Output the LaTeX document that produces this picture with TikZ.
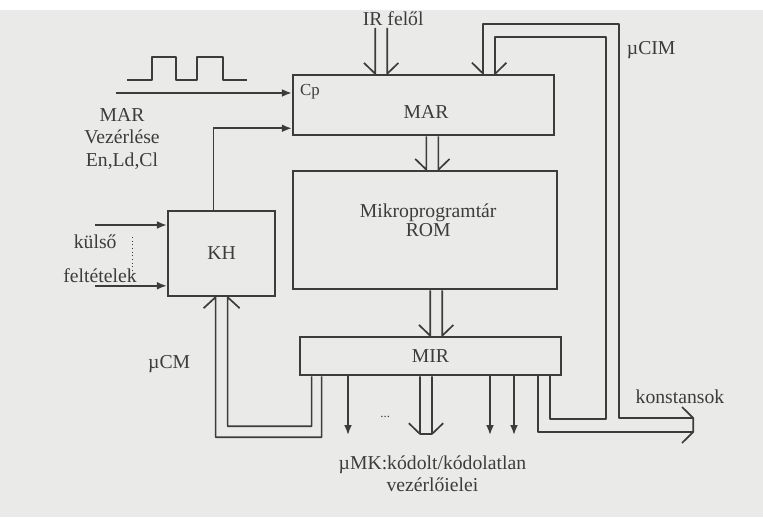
\documentclass[tikz,border=0pt]{standalone}
\usepackage{fontspec}
\setmainfont{Liberation Serif}
\usepackage{tikz}
\usetikzlibrary{arrows.meta, positioning, calc}
\definecolor{papir}{RGB}{234,234,232}
\definecolor{tinta}{RGB}{60,60,60}
\tikzstyle{doboz} = [draw=tinta, text=tinta, line width=1.8pt, inner sep=0pt]
\tikzstyle{nyil} = [draw=tinta, line width=1.2pt, -{Latex[length=7pt,width=5.5pt]}]

% kettos vonalu busz lefele, nyitott nyilheggyel
\newcommand{\buszle}[2]{%
  \draw[busz] ($(#1)+(-0.15,0)$) -- ($(#2)+(-0.15,0)$) -- ++(-0.28,0.27);
  \draw[busz] ($(#1)+(0.15,0)$) -- ($(#2)+(0.15,0)$) -- ++(0.28,0.27);}

\begin{document}
\begin{tikzpicture}[
        font=\fontsize{14}{16}\selectfont,
        % Kettos vonalas buszok vonala
        busz/.style={draw=tinta, line width=1.2pt, line join=round},
        szoveg/.style={text=tinta, align=center},
    ]
        % 0. Hatter (szkennelt lap)
        \useasboundingbox (0,0) rectangle (19.075,12.925);
        \fill[papir] (0,0) rectangle (19.075,12.675);

        % 1. A blokkok
        \node (mar) [doboz, minimum width=6.525cm, minimum height=1.5cm] at (10.59,10.3) {};
        \node (rom) [doboz, minimum width=6.6cm, minimum height=2.95cm] at (10.625,7.175) {};
        \node (mir) [doboz, minimum width=6.525cm, minimum height=0.95cm] at (10.76,4.025) {MIR};
        \node (kh) [doboz, minimum width=2.675cm, minimum height=2.125cm] at (5.54,6.59) {KH};
        \node[szoveg] (martext) at ($(mar.center)+(0.06,-0.18)$) {MAR};
        \node[szoveg, font=\fontsize{14}{13.6}\selectfont] (romtext) at ($(rom.center)+(0.08,0.24)$) {Mikroprogramtár\\ROM};

        % 2. Orajel es a MAR vezerlese
        \draw[busz] (3.18,10.93) -- (3.8,10.93) -- (3.8,11.5) -- (4.4,11.5) -- (4.4,10.93)
            -- (4.93,10.93) -- (4.93,11.5) -- (5.58,11.5) -- (5.58,10.93) -- (6.18,10.93);
        \coordinate (cpbe) at (2.9,10.6);
        \draw[nyil] (cpbe) -- (cpbe -| mar.west);
        \node[szoveg, font=\fontsize{12}{14}\selectfont, anchor=west] (cp) at (7.38,10.63) {Cp};
        \node[szoveg, font=\fontsize{14}{16.3}\selectfont] (marvez) at (3.05,9.45) {MAR\\Vezérlése\\En,Ld,Cl};

        % KH -> MAR
        \coordinate (khki) at ($(kh.north)+(-0.2,0)$);
        \draw[nyil] (khki) |- ($(mar.south west)+(0,0.2)$);

        % 3. Kulso feltetelek a KH-ba
        \coordinate (felt1) at (2.38,7.3);
        \coordinate (felt2) at (2.38,5.78);
        \draw[nyil] (felt1) -- (felt1 -| kh.west);
        \draw[nyil] (felt2) -- (felt2 -| kh.west);
        \draw[tinta, dotted, line width=0.6pt] (3.3,7.0) -- (3.3,6.0);
        \node[szoveg] (kulso) at (2.38,6.88) {külső};
        \node[szoveg] (feltetelek) at (2.5,6.03) {feltételek};

        % 4. Buszok: IR -> MAR -> ROM -> MIR
        \coordinate (ir) at (9.53,12.23);
        \buszle{ir}{ir |- mar.north}
        \node[szoveg] (irfelol) at (9.83,12.45) {IR felől};
        \coordinate (marki) at ($(mar.south)+(0.22,0)$);
        \buszle{marki}{marki |- rom.north}
        \coordinate (romki) at ($(rom.south)+(0.28,0)$);
        \buszle{romki}{romki |- mir.north}

        % 5. MIR kimenetei (vezerlojelek)
        \coordinate (ki1) at (8.7,2.05);
        \coordinate (ki2) at (12.25,2.05);
        \coordinate (ki3) at (12.85,2.05);
        \foreach \k in {ki1,ki2,ki3}
            \draw[nyil] (\k |- mir.south) -- (\k);
        \coordinate (mkki) at (10.65,2.075);
        \buszle{mkki |- mir.south}{mkki}
        \draw[busz] ($(mkki)+(-0.15,0)$) -- ($(mkki)+(0.15,0)$);
        \node[szoveg, font=\fontsize{9}{9}\selectfont] (pontok) at (9.63,2.5) {...};
        \node[szoveg, font=\fontsize{14}{15.6}\selectfont] (mumk) at (10.81,1.09) {µMK:kódolt/kódolatlan\\vezérlőielei};

        % 6. uCM visszacsatolas a KH-ba
        \draw[busz] ($(mir.south west)+(0.575,0)$) |- ($(kh.south)+(-0.15,-3.5)$)
            -- ($(kh.south)+(-0.15,0)$) -- ++(-0.3,-0.275);
        \draw[busz] ($(mir.south west)+(0.325,0)$) |- ($(kh.south)+(0.15,-3.225)$)
            -- ($(kh.south)+(0.15,0)$) -- ++(0.3,-0.275);
        \node[szoveg] (mucm) at (4.23,3.83) {µCM};

        % 7. uCIM hurok a MAR-ba es a konstansok
        \coordinate (cimbe) at ($(mar.north)+(1.64,0)$);
        \coordinate (cimki) at ($(mir.south)+(2.84,0)$);
        \coordinate (konst) at (17.33,2.3);
        \draw[busz] ($(cimbe)+(-0.15,0)$) |- (15.48,12.33) |- ($(konst)+(0,0.175)$);
        \draw[busz] ($(cimbe)+(0.15,0)$) |- (15.15,12.0) |- ($(cimki)+(0.15,-1.075)$)
            -- ($(cimki)+(0.15,0)$);
        \draw[busz] ($(cimki)+(-0.15,0)$) |- ($(konst)+(0,-0.175)$);
        \draw[busz] ($(cimbe)+(-0.43,0.275)$) -- ($(cimbe)+(-0.15,0)$);
        \draw[busz] ($(cimbe)+(0.43,0.275)$) -- ($(cimbe)+(0.15,0)$);
        \draw[busz] ($(konst)+(-0.28,0.45)$) -- ($(konst)+(0,0.175)$)
            -- ($(konst)+(0,-0.175)$) -- ($(konst)+(-0.28,-0.45)$);
        \node[szoveg] (mucim) at (16.28,11.68) {µCIM};
        \node[szoveg] (konstansok) at (17.0,3.0) {konstansok};

    \end{tikzpicture}
\end{document}
